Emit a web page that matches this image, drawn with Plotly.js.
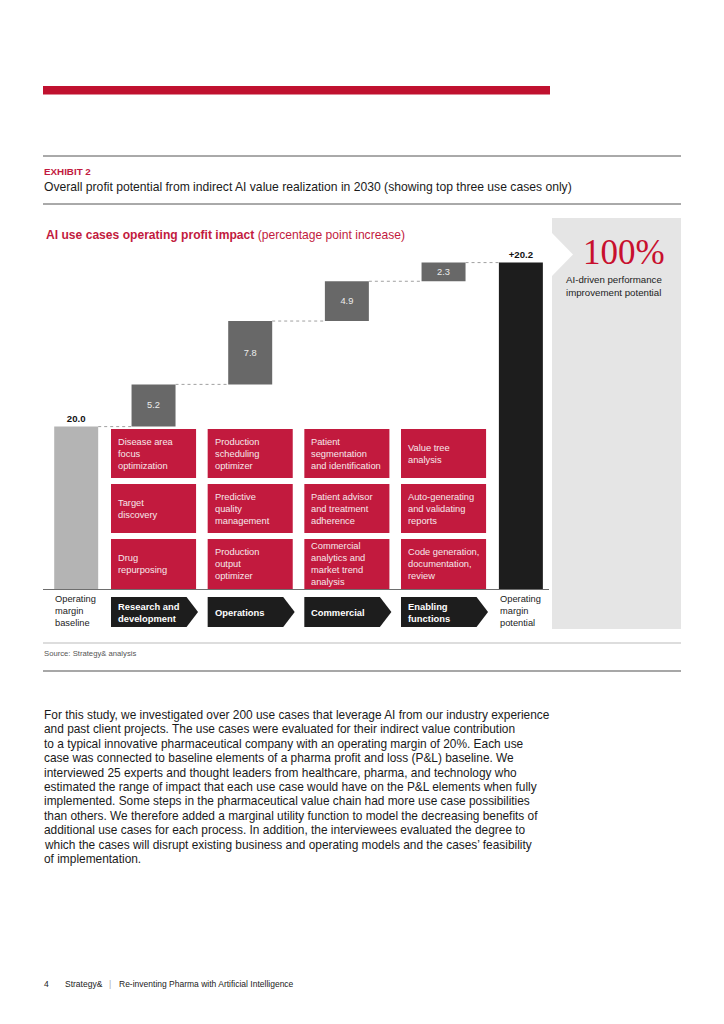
<!DOCTYPE html>
<html>
<head>
<meta charset="utf-8">
<script src="https://cdn.plot.ly/plotly-3.0.1.min.js"></script>
<style>
  html, body { margin: 0; padding: 0; background: #ffffff; }
  #chart { width: 724px; height: 1024px; }
</style>
</head>
<body>
<div id="chart"></div>
<script>
// ---------------- DATA ----------------
const categories = ['Operating margin baseline', 'Research and development', 'Operations', 'Commercial', 'Enabling functions', 'Operating margin potential'];
const baselineValue = 20.0;
const increments = [5.2, 7.8, 4.9, 2.3];
const chevronLabels = ['Research and<br>development', 'Operations', 'Commercial', 'Enabling<br>functions'];
const endLabels = ['Operating<br>margin<br>baseline', 'Operating<br>margin<br>potential'];
const useCases = [
  ['Disease area<br>focus<br>optimization', 'Target<br>discovery', 'Drug<br>repurposing'],
  ['Production<br>scheduling<br>optimizer', 'Predictive<br>quality<br>management', 'Production<br>output<br>optimizer'],
  ['Patient<br>segmentation<br>and identification', 'Patient advisor<br>and treatment<br>adherence', 'Commercial<br>analytics and<br>market trend<br>analysis'],
  ['Value tree<br>analysis', 'Auto-generating<br>and validating<br>reports', 'Code generation,<br>documentation,<br>review']
];
const exhibitLabel = 'EXHIBIT 2';
const exhibitTitle = 'Overall profit potential from indirect AI value realization in 2030 (showing top three use cases only)';
const chartTitleBold = 'AI use cases operating profit impact';
const chartTitleRest = ' (percentage point increase)';
const bigNumber = '100%';
const bigNumberCaption = 'AI-driven performance<br>improvement potential';
const sourceText = 'Source: Strategy& analysis';
const bodyLines = [
  'For this study, we investigated over 200 use cases that leverage AI from our industry experience',
  'and past client projects. The use cases were evaluated for their indirect value contribution',
  'to a typical innovative pharmaceutical company with an operating margin of 20%. Each use',
  'case was connected to baseline elements of a pharma profit and loss (P&L) baseline. We',
  'interviewed 25 experts and thought leaders from healthcare, pharma, and technology who',
  'estimated the range of impact that each use case would have on the P&L elements when fully',
  'implemented. Some steps in the pharmaceutical value chain had more use case possibilities',
  'than others. We therefore added a marginal utility function to model the decreasing benefits of',
  'additional use cases for each process. In addition, the interviewees evaluated the degree to',
  'which the cases will disrupt existing business and operating models and the cases\u2019 feasibility',
  'of implementation.'
];
const footerPage = '4';
const footerBrand = 'Strategy&';
const footerTitle = 'Re-inventing Pharma with Artificial Intelligence';

// ---------------- LAYOUT CONSTANTS ----------------
const W = 724, H = 1024;
const X = v => v / W;
const Y = v => 1 - v / H;
const F = '"Liberation Sans", Arial, Helvetica, sans-serif';
const FS = '"Liberation Serif", "Times New Roman", serif';
const RED = '#c21a3e';
const PLOT = { left: 43, right: 549, top: 250, bottom: 589 };
const SLOT = 96.67;          // px per x unit
const END_GAP = 0.8;         // slot distance of the end bars
const FIRST_PX = 76.2;       // pixel centre of the first slot
const PX_PER_UNIT = 8.12;    // vertical scale
const BAR_W = 0.455;
const BOX_HALF = 0.44;
const ROWS = [[429, 478], [484, 533], [539, 589]];
const CHEV = { top: 597, bottom: 627, body: 33 / SLOT, tip: 44.5 / SLOT };
const BODY = { top: 715, step: 14.4, size: 11.9 };

// slot positions along x axis
const nMid = increments.length;
const xPos = [0];
for (let i = 0; i < nMid; i++) xPos.push(END_GAP + i);
xPos.push(2 * END_GAP + nMid - 1);

// running totals
const bases = [];
let run = baselineValue;
for (const v of increments) { bases.push(run); run += v; }
const totalValue = run;
const gain = totalValue - baselineValue;
const levels = [baselineValue].concat(bases.slice(1), [totalValue]);

// ---------------- TRACES ----------------
const traces = [];
traces.push({
  type: 'bar', x: [xPos[0]], y: [baselineValue], base: [0], width: BAR_W,
  marker: { color: '#b4b4b4', line: { width: 0 } },
  text: [baselineValue.toFixed(1)], textposition: 'outside', cliponaxis: false,
  textfont: { family: F, size: 9.6, color: '#111', weight: 700 }, hoverinfo: 'skip'
});
traces.push({
  type: 'bar', x: xPos.slice(1, 1 + nMid), y: increments, base: bases, width: BAR_W,
  marker: { color: '#686868', line: { width: 0 } },
  text: increments.map(v => v.toFixed(1)), textposition: 'inside', insidetextanchor: 'middle',
  constraintext: 'none', textangle: 0,
  insidetextfont: { family: F, size: 9.3, color: '#ececec' }, hoverinfo: 'skip'
});
traces.push({
  type: 'bar', x: [xPos[xPos.length - 1]], y: [totalValue], base: [0], width: BAR_W,
  marker: { color: '#1d1d1d', line: { width: 0 } },
  text: ['+' + gain.toFixed(1)], textposition: 'outside', cliponaxis: false,
  textfont: { family: F, size: 9.6, color: '#111', weight: 700 }, hoverinfo: 'skip'
});
// dotted connectors
const cx = [], cy = [];
for (let i = 0; i < xPos.length - 1; i++) {
  cx.push(xPos[i] + BAR_W / 2, xPos[i + 1] - BAR_W / 2, null);
  cy.push(levels[i], levels[i], null);
}
traces.push({
  type: 'scatter', mode: 'lines', x: cx, y: cy, connectgaps: false,
  line: { color: '#a0a0a0', width: 1, dash: 'dot' }, hoverinfo: 'skip', cliponaxis: false
});

// ---------------- SHAPES ----------------
const shapes = [];
const pRect = (x0, y0, x1, y1, color, layer) => ({
  type: 'rect', xref: 'paper', yref: 'paper', x0: X(x0), x1: X(x1), y0: Y(y0), y1: Y(y1),
  fillcolor: color, line: { width: 0 }, layer: layer || 'below'
});
const pLine = (x0, x1, y, color, w) => ({
  type: 'line', xref: 'paper', yref: 'paper', x0: X(x0), x1: X(x1), y0: Y(y), y1: Y(y),
  line: { color: color, width: w }, layer: 'above'
});
shapes.push(pRect(43, 86, 550, 94.5, '#c0112f'));
shapes.push(pLine(43, 681, 156, '#555', 1));
shapes.push(pLine(43, 681, 204, '#555', 1));
shapes.push(pLine(43, 681, 643, '#d2d2d2', 1.5));
shapes.push(pLine(43, 681, 671, '#8a8a8a', 1.5));
// grey side panel with notch
const panelPts = [[552, 218], [681, 218], [681, 629], [552, 629], [552, 276], [573, 254.5], [552, 233]];
shapes.push({
  type: 'path', xref: 'paper', yref: 'paper', layer: 'below',
  path: 'M ' + panelPts.map(p => X(p[0]) + ',' + Y(p[1])).join(' L ') + ' Z',
  fillcolor: '#e5e5e5', line: { width: 0 }
});
// red use case boxes
for (let c = 0; c < nMid; c++) {
  const xc = xPos[c + 1];
  ROWS.forEach(r => {
    shapes.push({
      type: 'rect', xref: 'x', yref: 'paper', x0: xc - BOX_HALF, x1: xc + BOX_HALF,
      y0: Y(r[1]), y1: Y(r[0]), fillcolor: RED, line: { width: 0 }, layer: 'below'
    });
  });
  // chevron
  const a = xc - BOX_HALF, b = xc + CHEV.body, t = xc + CHEV.tip;
  const yt = Y(CHEV.top), yb = Y(CHEV.bottom), ym = Y((CHEV.top + CHEV.bottom) / 2);
  shapes.push({
    type: 'path', xref: 'x', yref: 'paper', layer: 'above',
    path: `M ${a},${yt} L ${b},${yt} L ${t},${ym} L ${b},${yb} L ${a},${yb} Z`,
    fillcolor: '#1d1d1d', line: { width: 0 }
  });
}

// ---------------- ANNOTATIONS ----------------
const ann = [];
const T = (text, x, y, size, color, extra) => Object.assign({
  text: text, x: X(x), y: Y(y), xref: 'paper', yref: 'paper', xanchor: 'left', yanchor: 'middle',
  align: 'left', showarrow: false, font: { family: F, size: size, color: color }
}, extra || {});
ann.push(T('<b>' + exhibitLabel + '</b>', 42, 171, 9.8, RED));
ann.push(T(exhibitTitle, 42, 186.5, 12.15, '#1a1a1a'));
ann.push(T('<b>' + chartTitleBold + '</b>' + chartTitleRest, 44, 234.5, 12.1, RED));
ann.push(T(bigNumber, 581, 252, 35, '#c8102e', { font: { family: FS, size: 35, color: '#c8102e' } }));
ann.push(T(bigNumberCaption, 564, 285.5, 9.7, '#222'));
ann.push(T(sourceText, 42, 653, 7.7, '#555'));
bodyLines.forEach((line, i) => {
  ann.push(T(line, 42, BODY.top + i * BODY.step, BODY.size, '#1a1a1a'));
});
ann.push(T(footerPage, 42, 984, 8.5, '#222'));
ann.push(T(footerBrand, 63, 984, 8.5, '#222'));
ann.push(T('|', 107, 984, 8.5, '#aaa'));
ann.push(T(footerTitle, 117, 984, 8.5, '#222'));

// use case box texts and chevron labels
for (let c = 0; c < nMid; c++) {
  const xc = xPos[c + 1];
  ROWS.forEach((r, ri) => {
    ann.push({
      text: useCases[c][ri], x: xc - BOX_HALF + 5 / SLOT, y: Y((r[0] + r[1]) / 2),
      xref: 'x', yref: 'paper', xanchor: 'left', yanchor: 'middle', align: 'left',
      showarrow: false, font: { family: F, size: 9.3, color: '#f6e8eb' }
    });
  });
  ann.push({
    text: '<b>' + chevronLabels[c] + '</b>', x: xc - BOX_HALF + 5 / SLOT, y: Y(612),
    xref: 'x', yref: 'paper', xanchor: 'left', yanchor: 'middle', align: 'left',
    showarrow: false, font: { family: F, size: 9.4, color: '#ffffff' }
  });
}
// end labels below the end bars
[0, xPos.length - 1].forEach((idx, k) => {
  ann.push({
    text: endLabels[k], x: xPos[idx] - BAR_W / 2 - 1 / SLOT, y: Y(611),
    xref: 'x', yref: 'paper', xanchor: 'left', yanchor: 'middle', align: 'left',
    showarrow: false, font: { family: F, size: 9.3, color: '#222' }
  });
});

// ---------------- LAYOUT ----------------
const layout = {
  width: W, height: H,
  margin: { l: 0, r: 0, t: 0, b: 0, pad: 0 },
  paper_bgcolor: '#ffffff', plot_bgcolor: 'rgba(0,0,0,0)',
  showlegend: false, barmode: 'overlay',
  xaxis: {
    domain: [X(PLOT.left), X(PLOT.right)],
    range: [(PLOT.left - FIRST_PX) / SLOT, (PLOT.right - FIRST_PX) / SLOT],
    showline: true, linecolor: '#6e6e6e', linewidth: 1,
    showticklabels: false, ticks: '', showgrid: false, zeroline: false, fixedrange: true
  },
  yaxis: {
    domain: [Y(PLOT.bottom), Y(PLOT.top)],
    range: [0, (PLOT.bottom - PLOT.top) / PX_PER_UNIT],
    visible: false, showgrid: false, zeroline: false, fixedrange: true
  },
  shapes: shapes,
  annotations: ann
};

Plotly.newPlot('chart', traces, layout, { displayModeBar: false, staticPlot: true });
</script>
</body>
</html>
